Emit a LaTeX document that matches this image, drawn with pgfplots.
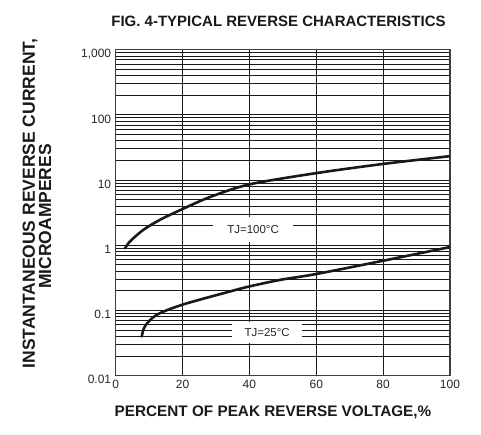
\documentclass[border=0pt]{standalone}
\usepackage{fontspec}
\setmainfont{Liberation Sans}
\usepackage{pgfplots}
\pgfplotsset{compat=1.18}
\begin{document}
\begin{tikzpicture}[x=1pt,y=1pt]
\path[use as bounding box] (-115.7,-58.3) rectangle (365.3,375.7);
\begin{axis}[
  at={(0,0)}, anchor=south west,
  scale only axis, width=334.3pt, height=326pt,
  xmin=0, xmax=100, ymode=log, ymin=0.01, ymax=1000,
  xtick={0,20,40,60,80,100}, xticklabels={0,20,40,60,80,100},
  ytick={0.01,0.1,1,10,100,1000}, yticklabels={0.01,0.1,1,10,100,{1,000}},
  minor ytick={0.02,0.03,0.04,0.05,0.06,0.07,0.08,0.09,
               0.2,0.3,0.4,0.5,0.6,0.7,0.8,0.9,
               2,3,4,5,6,7,8,9,
               20,30,40,50,60,70,80,90,
               200,300,400,500,600,700,800,900},
  grid=both,
  major grid style={black!90, line width=1pt},
  minor grid style={black!90, line width=1pt},
  axis line style={black!75, line width=1.1pt},
  tick style={draw=none},
  ticklabel style={font=\fontsize{12}{14}\selectfont, text=black!85},
  yticklabel style={yshift=-4pt, xshift=-1pt},
  xticklabel style={yshift=-1pt},
]
\addplot[line width=2.6pt, black!90, smooth, line cap=round] coordinates {
  (2.8,0.90) (4.3,1.15) (8.3,1.73) (13.3,2.47) (20,3.6) (28.2,5.5)
  (40,8.6) (60,12.8) (80,17.7) (100,23.3)
};
\addplot[line width=2.6pt, black!90, smooth, line cap=round] coordinates {
  (7.8,0.040) (8.8,0.058) (12.3,0.086) (20,0.123) (34.2,0.196)
  (40,0.234) (49.2,0.295) (60,0.363) (80,0.58) (100,0.94)
};
\node[fill=white, inner sep=0pt, minimum width=80pt, minimum height=25pt,
      font=\fontsize{11.5}{13}\selectfont, text=black!85] at (axis cs:41.1,1.77) {TJ=100°C};
\node[fill=white, inner sep=0pt, minimum width=70pt, minimum height=21pt,
      font=\fontsize{11.5}{13}\selectfont, text=black!85] at (axis cs:45.3,0.046) {TJ=25°C};
\end{axis}
\node[font=\bfseries\fontsize{15}{17}\selectfont, text=black!90] at (162.8,354.7) {FIG. 4-TYPICAL REVERSE CHARACTERISTICS};
\node[font=\bfseries\fontsize{15.3}{17}\selectfont, text=black!90] at (157.3,-36.3) {PERCENT OF PEAK REVERSE VOLTAGE,\%};
\node[rotate=90, font=\bfseries\fontsize{17.5}{19}\selectfont, text=black!90] at (-85.7,172.2) {INSTANTANEOUS REVERSE CURRENT,};
\node[rotate=90, font=\bfseries\fontsize{17.5}{19}\selectfont, text=black!90] at (-70.7,159.2) {MICROAMPERES};
\end{tikzpicture}
\end{document}
